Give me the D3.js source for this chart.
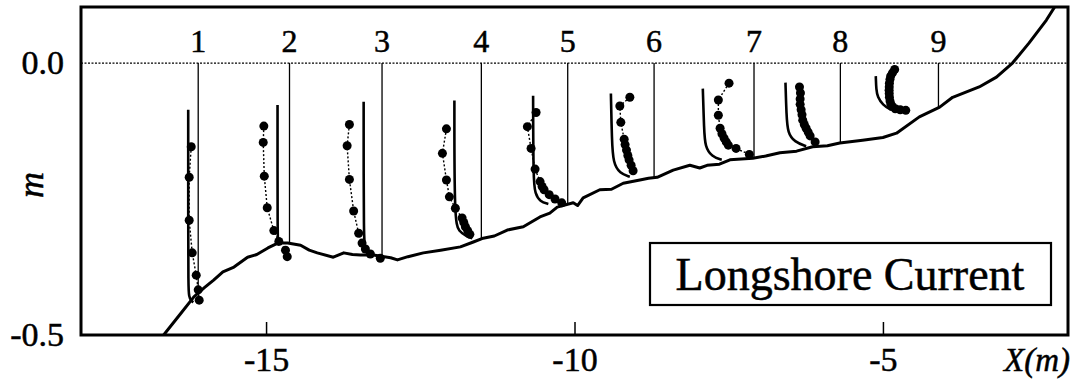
<!DOCTYPE html>
<html>
<head>
<meta charset="utf-8">
<script src="https://cdn.jsdelivr.net/npm/d3@7"></script>
<style>
  body { margin: 0; background: #fff; }
  text { font-family: "Liberation Serif", "Times New Roman", serif; fill: #000; stroke: #000; stroke-width: 0.5px; }
</style>
</head>
<body>
<script>
// Station positions (m) and labels
var stationLabels = ["1", "2", "3", "4", "5", "6", "7", "8", "9"];
var stationX = [-16.1, -14.62, -13.12, -11.51, -10.11, -8.71, -7.09, -5.69, -4.10];

// Bottom profile
var bedX = [-16.66, -16.38, -16.17, -16.0, -15.85, -15.7, -15.52, -15.3, -15.15, -14.97, -14.81, -14.65,
            -14.44, -14.3, -14.17, -13.91, -13.74, -13.6, -13.47, -13.26, -12.98, -12.87, -12.7, -12.45,
            -12.17, -11.85, -11.64, -11.48, -11.3, -11.09, -10.83, -10.56, -10.4, -10.28, -10.02, -9.95,
            -9.86, -9.59, -9.4, -9.21, -8.94, -8.8, -8.66, -8.4, -8.13, -7.97, -7.85, -7.65, -7.48,
            -7.11, -6.9, -6.67, -6.4, -6.14, -5.9, -5.70, -5.33, -5.0, -4.78, -4.41, -4.08, -3.87,
            -3.44, -3.16, -2.90, -2.63, -2.35, -2.15];
var bedZ = [-0.500, -0.460, -0.430, -0.413, -0.399, -0.384, -0.375, -0.357, -0.352, -0.340, -0.331, -0.331,
            -0.335, -0.344, -0.349, -0.357, -0.349, -0.352, -0.353, -0.353, -0.358, -0.362, -0.356, -0.349,
            -0.344, -0.338, -0.329, -0.322, -0.318, -0.307, -0.301, -0.283, -0.276, -0.265, -0.257, -0.262,
            -0.248, -0.233, -0.232, -0.221, -0.215, -0.212, -0.210, -0.197, -0.188, -0.193, -0.188, -0.186, -0.178,
            -0.175, -0.171, -0.165, -0.162, -0.154, -0.152, -0.147, -0.142, -0.137, -0.129, -0.099, -0.081, -0.063,
            -0.044, -0.026, 0.000, 0.037, 0.079, 0.115];

// Measured longshore current (dots): elevation z (m) and velocity u (m/s) per station
var measZ = [
  [-0.154, -0.210, -0.289, -0.349, -0.390, -0.417, -0.436],
  [-0.116, -0.146, -0.208, -0.266, -0.308, -0.328, -0.344, -0.356],
  [-0.113, -0.152, -0.214, -0.272, -0.313, -0.331, -0.342, -0.351, -0.359],
  [-0.121, -0.166, -0.215, -0.246, -0.267, -0.285, -0.293, -0.301, -0.308, -0.315],
  [-0.091, -0.117, -0.157, -0.195, -0.218, -0.227, -0.233, -0.242, -0.250, -0.257],
  [-0.063, -0.079, -0.109, -0.140, -0.150, -0.160, -0.170, -0.178, -0.188, -0.198],
  [-0.037, -0.068, -0.096, -0.120, -0.130, -0.138, -0.145, -0.151, -0.157, -0.168],
  [-0.044, -0.055, -0.066, -0.076, -0.086, -0.095, -0.105, -0.113, -0.120, -0.127, -0.134, -0.145],
  [-0.012, -0.018, -0.024, -0.030, -0.037, -0.044, -0.050, -0.056, -0.063, -0.070, -0.076, -0.080, -0.084, -0.086, -0.087]
];
var measU = [
  [0.113, 0.146, 0.146, 0.097, 0.032, 0.000, -0.016],
  [0.416, 0.426, 0.409, 0.361, 0.254, 0.173, 0.065, 0.037],
  [0.529, 0.566, 0.529, 0.460, 0.379, 0.324, 0.270, 0.189, 0.028],
  [0.566, 0.631, 0.566, 0.518, 0.421, 0.312, 0.285, 0.259, 0.222, 0.186],
  [0.513, 0.654, 0.594, 0.529, 0.448, 0.415, 0.383, 0.300, 0.206, 0.097],
  [0.393, 0.555, 0.539, 0.485, 0.470, 0.447, 0.425, 0.405, 0.372, 0.340],
  [0.405, 0.578, 0.578, 0.550, 0.520, 0.485, 0.450, 0.416, 0.291, 0.076],
  [0.663, 0.647, 0.652, 0.652, 0.636, 0.622, 0.610, 0.585, 0.555, 0.522, 0.490, 0.409],
  [0.710, 0.745, 0.775, 0.786, 0.795, 0.798, 0.800, 0.798, 0.795, 0.785, 0.770, 0.750, 0.700, 0.620, 0.530]
];

// Computed longshore current (solid lines)
var calcZ = [
  [-0.086, -0.300, -0.410, -0.430, -0.437, -0.440],
  [-0.077, -0.320, -0.331, -0.334],
  [-0.071, -0.335, -0.347, -0.355],
  [-0.069, -0.289, -0.310, -0.319, -0.322],
  [-0.060, -0.215, -0.240, -0.255, -0.259],
  [-0.056, -0.142, -0.184, -0.203, -0.209],
  [-0.047, -0.123, -0.154, -0.172, -0.178],
  [-0.036, -0.096, -0.129, -0.145, -0.153],
  [-0.024, -0.050, -0.062, -0.077, -0.086]
];
var calcU = [
  [0.162, 0.162, 0.160, 0.150, 0.113, 0.080],
  [0.194, 0.194, 0.185, 0.170],
  [0.298, 0.298, 0.270, 0.190],
  [0.437, 0.437, 0.367, 0.231, 0.146],
  [0.561, 0.557, 0.529, 0.448, 0.314],
  [0.700, 0.684, 0.663, 0.555, 0.393],
  [0.830, 0.809, 0.793, 0.684, 0.523],
  [0.890, 0.874, 0.853, 0.744, 0.555],
  [1.016, 1.008, 0.987, 0.906, 0.770]
];
var uScale = 1.0; // metres of X per m/s of current

var xTicks = [-15, -10, -5];
var yTicks = [0.0, -0.5];

var margin = { top: 7, right: 10, bottom: 48, left: 81 };
var width = 1078 - margin.left - margin.right;
var height = 383 - margin.top - margin.bottom;
var serif = '"Liberation Serif", "Times New Roman", serif';

var svg = d3.select("body").append("svg")
    .attr("width", 1078)
    .attr("height", 383);

var g = svg.append("g")
    .attr("transform", "translate(" + margin.left + "," + margin.top + ")");

var x = d3.scaleLinear().domain([-18, -2]).range([0, width]);
var y = d3.scaleLinear().domain([-0.5, 0.103]).range([height, 0]);

g.append("clipPath").attr("id", "clip")
  .append("rect").attr("width", width).attr("height", height);

// still water level
g.append("line")
    .attr("x1", 0).attr("x2", width)
    .attr("y1", y(0)).attr("y2", y(0))
    .attr("stroke", "#000").attr("stroke-width", 1.2)
    .attr("stroke-dasharray", "2,1.5");

// bed elevation at each station
function bedAt(xv) {
  for (var i = 0; i < bedX.length - 1; i++) {
    if (xv >= bedX[i] && xv <= bedX[i + 1]) {
      var t = (xv - bedX[i]) / (bedX[i + 1] - bedX[i]);
      return bedZ[i] + t * (bedZ[i + 1] - bedZ[i]);
    }
  }
  return 0;
}

// station lines
g.selectAll(".station").data(stationX).enter()
  .append("line")
    .attr("class", "station")
    .attr("x1", d => x(d)).attr("x2", d => x(d))
    .attr("y1", y(0)).attr("y2", d => y(bedAt(d)))
    .attr("stroke", "#000").attr("stroke-width", 1.3);

// station numbers
g.selectAll(".slabel").data(stationLabels).enter()
  .append("text")
    .attr("x", (d, i) => x(stationX[i]))
    .attr("y", y(0) - 11)
    .attr("text-anchor", "middle")
    .style("font-family", serif)
    .style("font-size", "32px")
    .text(d => d);

// bed profile
var bedLine = d3.line().x(d => x(d[0])).y(d => y(d[1]));
g.append("path")
    .datum(bedX.map((d, i) => [d, bedZ[i]]))
    .attr("clip-path", "url(#clip)")
    .attr("d", bedLine)
    .attr("fill", "none").attr("stroke", "#000").attr("stroke-width", 3)
    .attr("stroke-linejoin", "round");

// computed current profiles
stationX.forEach(function (sx, i) {
  var pts = calcZ[i].map((z, j) => [sx - calcU[i][j] * uScale, z]);
  g.append("path")
      .datum(pts)
      .attr("d", d3.line().curve(d3.curveBasis).x(d => x(d[0])).y(d => y(d[1])))
      .attr("fill", "none").attr("stroke", "#000").attr("stroke-width", 2.6);
});

// measured current profiles
stationX.forEach(function (sx, i) {
  var pts = measZ[i].map((z, j) => [sx - measU[i][j] * uScale, z]);
  g.append("path")
      .datum(pts)
      .attr("d", bedLine)
      .attr("fill", "none").attr("stroke", "#000").attr("stroke-width", 1.4)
      .attr("stroke-dasharray", "2,2");
  g.selectAll(".dot" + i).data(pts).enter()
    .append("circle")
      .attr("cx", d => x(d[0]))
      .attr("cy", d => y(d[1]))
      .attr("r", 4.5)
      .attr("fill", "#000");
});

// axes
var xAxis = d3.axisBottom(x).tickValues(xTicks).tickSizeInner(-13).tickSizeOuter(0).tickPadding(12)
    .tickFormat(d => String(d));
var gx = g.append("g").attr("transform", "translate(0," + height + ")").call(xAxis);
gx.select(".domain").remove();
gx.selectAll("line").attr("stroke", "#000").attr("stroke-width", 1.5);
gx.selectAll("text").style("font-family", serif).style("font-size", "34px");

var yAxis = d3.axisLeft(y).tickValues(yTicks).tickSize(0).tickPadding(17)
    .tickFormat(d => d3.format(".1f")(d).replace("\u2212", "-"));
var gy = g.append("g").call(yAxis);
gy.select(".domain").remove();
gy.selectAll("text").style("font-family", serif).style("font-size", "34px");

// frame
g.append("rect")
    .attr("width", width).attr("height", height)
    .attr("fill", "none").attr("stroke", "#000").attr("stroke-width", 3);

// axis titles
svg.append("text")
    .attr("transform", "translate(43,185) rotate(-90)")
    .attr("text-anchor", "middle")
    .style("font-family", serif).style("font-size", "36px").style("font-style", "italic")
    .text("m");

svg.append("text")
    .attr("x", 1070).attr("y", 371)
    .attr("text-anchor", "end")
    .style("font-family", serif).style("font-size", "33px").style("font-style", "italic")
    .text("X(m)");

// legend box
var legend = g.append("g").attr("transform", "translate(" + (650 - margin.left) + "," + (243 - margin.top) + ")");
legend.append("rect")
    .attr("width", 401).attr("height", 62)
    .attr("fill", "#fff").attr("stroke", "#000").attr("stroke-width", 2.2);
legend.append("text")
    .attr("x", 200).attr("y", 47)
    .attr("text-anchor", "middle")
    .style("font-family", serif).style("font-size", "46px")
    .text("Longshore Current");
</script>
</body>
</html>
